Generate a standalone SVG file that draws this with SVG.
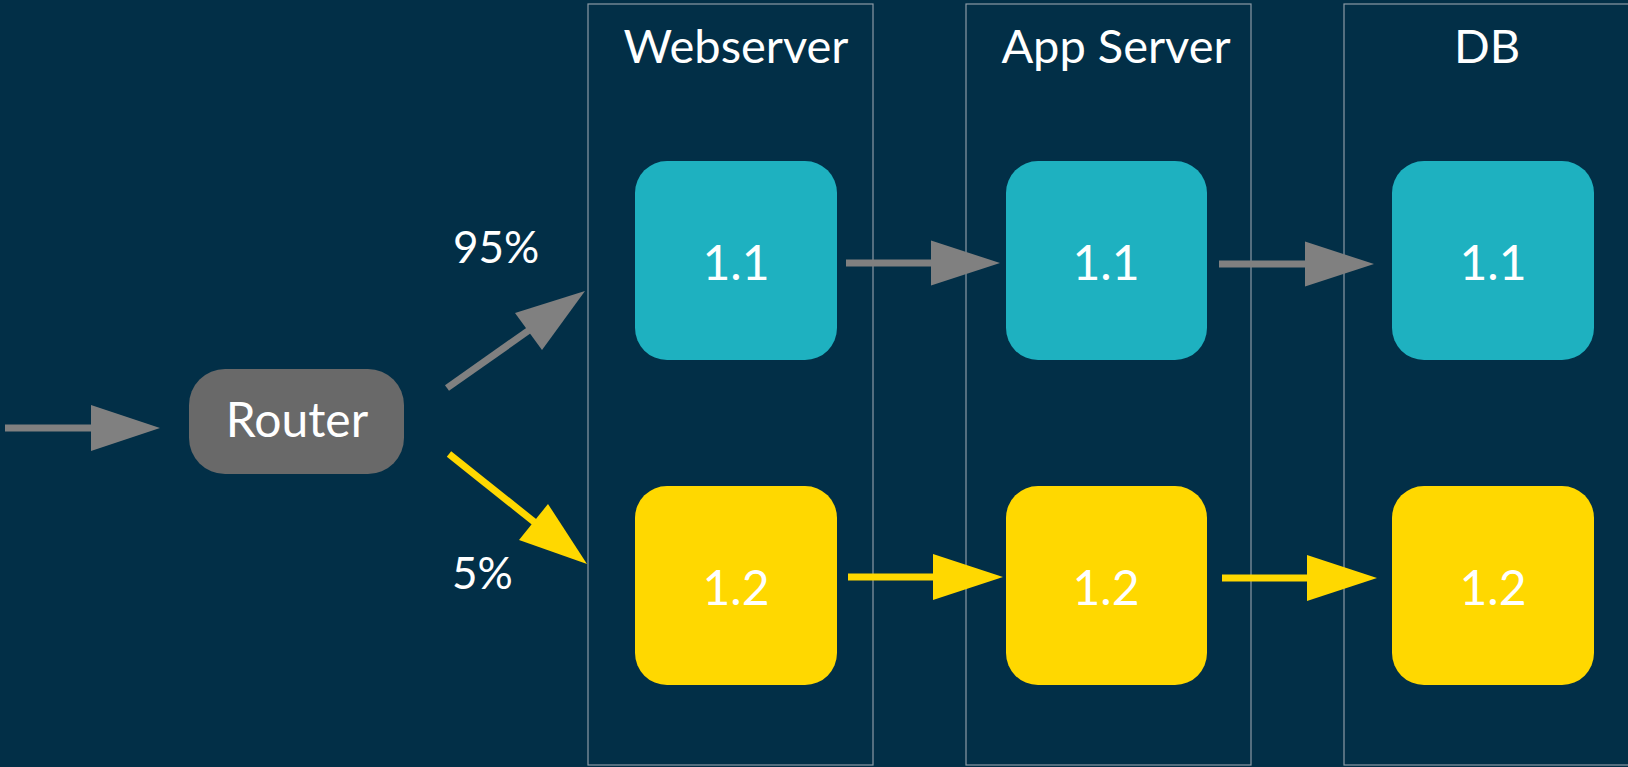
<svg xmlns="http://www.w3.org/2000/svg" width="1628" height="767" viewBox="0 0 1628 767">
<style>
text{font-family:Lato,"Open Sans","Liberation Sans",sans-serif;fill:#ffffff}
.panel{fill:none;stroke:#8c9aa5;stroke-width:1.2}
.hdr{font-size:47px;text-anchor:middle}
.lbl{font-size:48px;text-anchor:middle}
.pct{font-size:44px}
.teal{fill:#1eb1c0}
.yel{fill:#ffd800}
.g{stroke:#808080;stroke-width:7;fill:none}
.y{stroke:#ffd800;stroke-width:7;fill:none}
.gh{fill:#808080}
.yh{fill:#ffd800}
</style>
<rect width="1628" height="767" fill="#022f47"/>
<g id="panel-webserver"><rect class="panel" x="588" y="4" width="285" height="761"/><text class="hdr" x="736" y="63">Webserver</text></g>
<g id="panel-appserver"><rect class="panel" x="966" y="4" width="285" height="761"/><text class="hdr" x="1116" y="63">App Server</text></g>
<g id="panel-db"><rect class="panel" x="1344" y="4" width="290" height="761"/><text class="hdr" x="1487" y="63">DB</text></g>
<g id="router"><rect x="189" y="369" width="215" height="105" rx="36" fill="#696969"/><text class="lbl" x="297" y="437">Router</text></g>
<g id="web-11"><rect class="teal" x="635" y="161" width="202" height="199" rx="32"/><text class="lbl" x="736" y="280">1.1</text></g>
<g id="app-11"><rect class="teal" x="1006" y="161" width="201" height="199" rx="32"/><text class="lbl" x="1106" y="280">1.1</text></g>
<g id="db-11"><rect class="teal" x="1392" y="161" width="202" height="199" rx="32"/><text class="lbl" x="1493" y="280">1.1</text></g>
<g id="web-12"><rect class="yel" x="635" y="486" width="202" height="199" rx="32"/><text class="lbl" x="736" y="605">1.2</text></g>
<g id="app-12"><rect class="yel" x="1006" y="486" width="201" height="199" rx="32"/><text class="lbl" x="1106" y="605">1.2</text></g>
<g id="db-12"><rect class="yel" x="1392" y="486" width="202" height="199" rx="32"/><text class="lbl" x="1493" y="605">1.2</text></g>
<g id="labels"><text class="pct" x="453" y="263">95%</text><text class="pct" x="452" y="589">5%</text></g>
<g id="connectors">
<line class="g" x1="5" y1="428" x2="95" y2="428"/><polygon class="gh" points="91,405 160,428 91,451"/>
<line class="g" x1="447" y1="388" x2="535" y2="326"/><polygon class="gh" points="515,313 585,291 542,350"/>
<line class="y" x1="449" y1="454" x2="538" y2="525"/><polygon class="yh" points="548,504 587,564 519,540"/>
<line class="g" x1="846" y1="263" x2="935" y2="263"/><polygon class="gh" points="931,240.5 1000,263 931,285.5"/>
<line class="y" x1="848" y1="577" x2="937" y2="577"/><polygon class="yh" points="933,554 1003,577 933,600"/>
<line class="g" x1="1219" y1="264" x2="1309" y2="264"/><polygon class="gh" points="1305,241.5 1374,264 1305,286.5"/>
<line class="y" x1="1222" y1="578" x2="1311" y2="578"/><polygon class="yh" points="1307,555 1377,578 1307,601"/>
</g>
</svg>
